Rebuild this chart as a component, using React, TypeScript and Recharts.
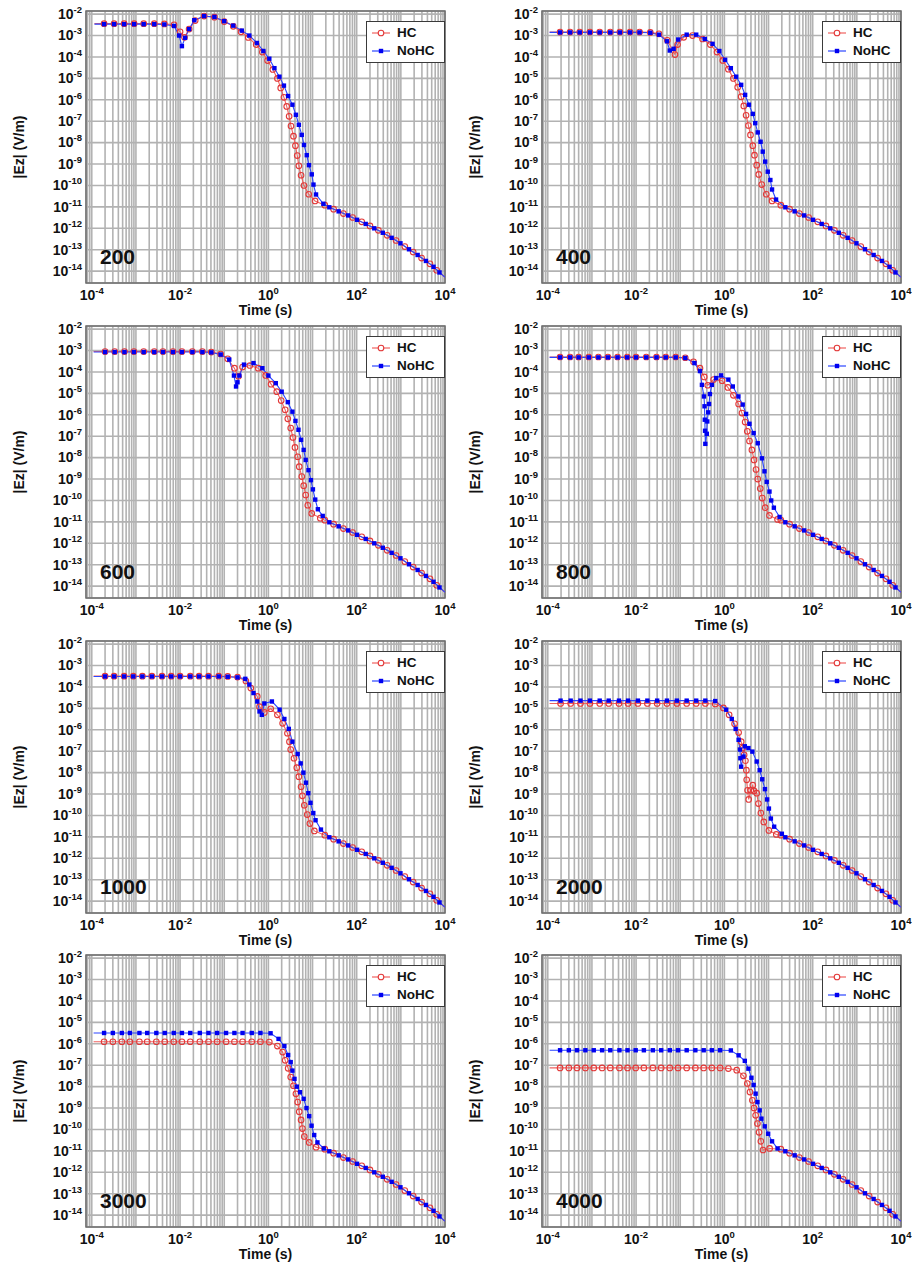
import React from 'react';
import { LineChart, Line, XAxis, YAxis, CartesianGrid, ReferenceArea, Legend } from 'recharts';

type Pair = [number, number];

// late-time tail, identical in every panel
const TAIL_HC: Pair[] = [[19, 1.2e-11], [30, 7.8e-12], [50, 4.9e-12], [81, 3.2e-12], [130, 2.0e-12], [200, 1.3e-12], [310, 8.1e-13], [490, 4.7e-13], [780, 2.7e-13], [1230, 1.4e-13], [1900, 7.8e-14], [2950, 4.1e-14], [4570, 2.2e-14], [6500, 1.1e-14], [1e4, 5.2e-15]];
const TAIL_NOHC: Pair[] = [[24, 9.6e-12], [39, 6.2e-12], [64, 4.0e-12], [102, 2.5e-12], [160, 1.6e-12], [250, 1.0e-12], [390, 6.2e-13], [620, 3.6e-13], [980, 2.0e-13], [1530, 1.05e-13], [2400, 5.7e-14], [3700, 3.0e-14], [5500, 1.6e-14], [7500, 8.7e-15], [1e4, 5.2e-15]];

const HC_200: Pair[] = [[1.15e-4, 3.6e-3], [1.9e-4, 3.6e-3], [3.2e-4, 3.6e-3], [5.4e-4, 3.6e-3], [9.1e-4, 3.6e-3], [1.5e-3, 3.6e-3], [2.6e-3, 3.6e-3], [4.4e-3, 3.5e-3], [7.3e-3, 3.2e-3], [1.0e-2, 1.5e-3], [1.26e-2, 8.3e-4], [1.6e-2, 2.0e-3], [2.2e-2, 5.0e-3], [3.5e-2, 8.1e-3], [6.0e-2, 7.2e-3], [0.1, 4.5e-3], [0.16, 2.7e-3], [0.24, 1.5e-3], [0.35, 8.1e-4], [0.53, 3.8e-4], [0.73, 1.7e-4], [0.96, 6.8e-5], [1.26, 2.6e-5], [1.6, 1.0e-5], [1.9, 3.6e-6], [2.25, 1.3e-6], [2.6, 4.9e-7], [2.95, 1.7e-7], [3.25, 6.0e-8], [3.7, 2.0e-8], [4.1, 7.2e-9], [4.5, 2.5e-9], [4.9, 8.3e-10], [5.5, 3.0e-10], [6.4, 1.0e-10], [8.2, 3.9e-11], [11.4, 1.9e-11]];
const NOHC_200: Pair[] = [[1.15e-4, 3.4e-3], [1.9e-4, 3.4e-3], [3.2e-4, 3.4e-3], [5.4e-4, 3.4e-3], [9.1e-4, 3.4e-3], [1.5e-3, 3.4e-3], [2.6e-3, 3.4e-3], [4.4e-3, 3.3e-3], [7.3e-3, 2.8e-3], [9.5e-3, 1.0e-3], [1.1e-2, 3.2e-4], [1.3e-2, 7.8e-4], [1.6e-2, 2.0e-3], [2.1e-2, 5.2e-3], [3.5e-2, 8.1e-3], [6.0e-2, 7.4e-3], [0.1, 4.7e-3], [0.16, 2.9e-3], [0.25, 1.7e-3], [0.37, 1.0e-3], [0.55, 4.5e-4], [0.77, 1.9e-4], [1.05, 8.3e-5], [1.37, 3.0e-5], [1.78, 1.2e-5], [2.25, 4.6e-6], [2.8, 1.5e-6], [3.5, 5.9e-7], [4.2, 2.0e-7], [4.9, 6.8e-8], [5.7, 2.3e-8], [6.4, 7.8e-9], [7.4, 2.6e-9], [8.3, 8.9e-10], [9.6, 3.3e-10], [10.5, 1.1e-10], [12, 3.8e-11], [17.6, 1.4e-11]];

const HC_400: Pair[] = [[1.1e-4, 1.45e-3], [1.9e-4, 1.45e-3], [3.2e-4, 1.45e-3], [5.3e-4, 1.45e-3], [9.0e-4, 1.45e-3], [1.5e-3, 1.45e-3], [2.6e-3, 1.45e-3], [4.3e-3, 1.45e-3], [7.3e-3, 1.45e-3], [1.2e-2, 1.45e-3], [2.1e-2, 1.4e-3], [3.3e-2, 1.2e-3], [5.1e-2, 6.0e-4], [7.6e-2, 1.3e-4], [8.7e-2, 3.8e-4], [0.12, 8.3e-4], [0.19, 1.0e-3], [0.32, 6.9e-4], [0.48, 3.8e-4], [0.68, 1.7e-4], [0.92, 6.9e-5], [1.23, 2.7e-5], [1.6, 1.0e-5], [2.0, 3.9e-6], [2.4, 1.4e-6], [2.75, 5.2e-7], [3.1, 1.9e-7], [3.5, 6.3e-8], [3.9, 2.3e-8], [4.4, 7.2e-9], [4.8, 2.6e-9], [5.4, 8.9e-10], [6.0, 3.3e-10], [7.0, 1.1e-10], [8.9, 3.9e-11], [12, 1.9e-11]];
const NOHC_400: Pair[] = [[1.1e-4, 1.4e-3], [1.9e-4, 1.4e-3], [3.2e-4, 1.4e-3], [5.3e-4, 1.4e-3], [9.0e-4, 1.4e-3], [1.5e-3, 1.4e-3], [2.6e-3, 1.4e-3], [4.3e-3, 1.4e-3], [7.3e-3, 1.4e-3], [1.2e-2, 1.4e-3], [2.1e-2, 1.35e-3], [3.3e-2, 1.1e-3], [5.0e-2, 5.4e-4], [5.8e-2, 2.0e-4], [7.1e-2, 2.4e-4], [9.0e-2, 6.5e-4], [0.14, 1.1e-3], [0.23, 1.1e-3], [0.36, 6.9e-4], [0.54, 4.1e-4], [0.77, 1.9e-4], [1.04, 7.4e-5], [1.4, 3.0e-5], [1.85, 1.2e-5], [2.4, 5.0e-6], [2.95, 1.7e-6], [3.6, 5.9e-7], [4.4, 2.2e-7], [5.0, 8.1e-8], [5.7, 3.0e-8], [6.6, 1.1e-8], [7.4, 3.8e-9], [8.4, 1.3e-9], [9.6, 4.4e-10], [11, 1.8e-10], [12, 6.5e-11], [14.8, 2.2e-11]];

const HC_600: Pair[] = [[1.1e-4, 9e-4], [2.0e-4, 9e-4], [3.3e-4, 9e-4], [5.5e-4, 9e-4], [9e-4, 9e-4], [1.5e-3, 9e-4], [2.6e-3, 9e-4], [4.1e-3, 9e-4], [6.9e-3, 9e-4], [1.1e-2, 9e-4], [1.9e-2, 9e-4], [3.2e-2, 9e-4], [5.1e-2, 8.5e-4], [8.3e-2, 6.9e-4], [0.12, 4.1e-4], [0.17, 1.5e-4], [0.21, 6.3e-5], [0.26, 1.7e-4], [0.38, 2.0e-4], [0.59, 1.5e-4], [0.87, 6.9e-5], [1.15, 2.7e-5], [1.55, 1.2e-5], [1.95, 4.6e-6], [2.4, 1.7e-6], [2.75, 6.5e-7], [3.2, 2.4e-7], [3.6, 8.7e-8], [4.0, 3.0e-8], [4.6, 1.1e-8], [5.0, 3.8e-9], [5.7, 1.3e-9], [6.3, 4.9e-10], [7.0, 1.8e-10], [7.8, 6.0e-11], [9.6, 2.5e-11], [15, 1.5e-11]];
const NOHC_600: Pair[] = [[1.1e-4, 8.5e-4], [2.0e-4, 8.5e-4], [3.3e-4, 8.5e-4], [5.5e-4, 8.5e-4], [9e-4, 8.5e-4], [1.5e-3, 8.5e-4], [2.6e-3, 8.5e-4], [4.1e-3, 8.5e-4], [6.9e-3, 8.5e-4], [1.1e-2, 8.5e-4], [1.9e-2, 8.5e-4], [3.2e-2, 8.5e-4], [5.1e-2, 8.2e-4], [8.3e-2, 6.5e-4], [0.13, 3.8e-4], [0.166, 6.8e-5], [0.185, 2.1e-5], [0.2, 3.3e-5], [0.22, 6.8e-5], [0.28, 2.2e-4], [0.46, 2.6e-4], [0.73, 1.5e-4], [1.0, 6.8e-5], [1.47, 3.0e-5], [2.0, 1.2e-5], [2.75, 3.9e-6], [3.5, 1.4e-6], [4.1, 5.2e-7], [4.8, 2.0e-7], [5.5, 6.8e-8], [6.3, 2.3e-8], [7.0, 7.8e-9], [8.1, 2.6e-9], [9.2, 8.9e-10], [10.2, 3.3e-10], [11.5, 1.1e-10], [13.2, 3.9e-11], [17, 1.9e-11]];

const HC_800: Pair[] = [[1.1e-4, 5e-4], [1.9e-4, 5e-4], [3.2e-4, 5e-4], [5.0e-4, 5e-4], [8.5e-4, 5e-4], [1.4e-3, 5e-4], [2.3e-3, 5e-4], [3.8e-3, 5e-4], [6.3e-3, 5e-4], [1.0e-2, 5e-4], [1.7e-2, 5e-4], [2.9e-2, 5e-4], [4.7e-2, 5e-4], [7.9e-2, 5e-4], [0.13, 4.6e-4], [0.2, 3.0e-4], [0.28, 1.5e-4], [0.35, 5.9e-5], [0.42, 2.4e-5], [0.57, 4.4e-5], [0.89, 3.9e-5], [1.2, 1.9e-5], [1.6, 8.1e-6], [2.1, 3.2e-6], [2.5, 1.2e-6], [2.95, 4.6e-7], [3.3, 1.7e-7], [3.7, 6.0e-8], [4.2, 2.3e-8], [4.7, 7.8e-9], [5.2, 2.8e-9], [5.7, 1.0e-9], [6.5, 3.6e-10], [7.2, 1.3e-10], [8.4, 4.6e-11], [10.5, 2.0e-11], [16, 1.3e-11]];
const NOHC_800: Pair[] = [[1.1e-4, 4.8e-4], [1.9e-4, 4.8e-4], [3.2e-4, 4.8e-4], [5.0e-4, 4.8e-4], [8.5e-4, 4.8e-4], [1.4e-3, 4.8e-4], [2.3e-3, 4.8e-4], [3.8e-3, 4.8e-4], [6.3e-3, 4.8e-4], [1.0e-2, 4.8e-4], [1.7e-2, 4.8e-4], [2.9e-2, 4.8e-4], [4.7e-2, 4.8e-4], [7.9e-2, 4.8e-4], [0.13, 4.5e-4], [0.21, 2.6e-4], [0.28, 1.1e-4], [0.31, 2.5e-5], [0.345, 7.2e-6], [0.355, 2.5e-6], [0.36, 5.9e-7], [0.365, 1.8e-7], [0.37, 4.4e-8], [0.4, 1.3e-7], [0.41, 4.9e-7], [0.43, 1.3e-6], [0.45, 3.2e-6], [0.47, 9.3e-6], [0.52, 2.5e-5], [0.65, 5.2e-5], [0.84, 6.9e-5], [1.23, 4.4e-5], [1.55, 2.1e-5], [2.08, 7.2e-6], [2.6, 3.0e-6], [3.1, 1.1e-6], [3.7, 3.8e-7], [4.6, 1.4e-7], [5.7, 4.7e-8], [7.1, 9.3e-9], [8.1, 2.3e-9], [9.1, 7.4e-10], [10.5, 2.6e-10], [11.5, 1.0e-10], [13.2, 4.6e-11], [17.8, 1.7e-11]];

const HC_1000: Pair[] = [[1.1e-4, 3.2e-4], [2.0e-4, 3.2e-4], [3.2e-4, 3.2e-4], [5.4e-4, 3.2e-4], [8.7e-4, 3.2e-4], [1.4e-3, 3.2e-4], [2.3e-3, 3.2e-4], [3.9e-3, 3.2e-4], [6.3e-3, 3.2e-4], [1.0e-2, 3.2e-4], [1.7e-2, 3.2e-4], [2.7e-2, 3.2e-4], [4.4e-2, 3.2e-4], [7.5e-2, 3.2e-4], [0.12, 3.1e-4], [0.2, 2.9e-4], [0.31, 1.9e-4], [0.4, 8.9e-5], [0.56, 3.6e-5], [0.63, 1.2e-5], [0.81, 6.5e-6], [1.13, 9.6e-6], [1.6, 5.0e-6], [2.1, 2.0e-6], [2.7, 6.9e-7], [3.0, 2.8e-7], [3.2, 1.2e-7], [3.8, 4.7e-8], [4.4, 1.7e-8], [4.9, 6.5e-9], [5.5, 2.2e-9], [5.9, 8.3e-10], [6.5, 3.0e-10], [7.6, 1.1e-10], [8.7, 4.2e-11], [11, 1.9e-11]];
const NOHC_1000: Pair[] = [[1.1e-4, 3.1e-4], [2.0e-4, 3.1e-4], [3.2e-4, 3.1e-4], [5.4e-4, 3.1e-4], [8.7e-4, 3.1e-4], [1.4e-3, 3.1e-4], [2.3e-3, 3.1e-4], [3.9e-3, 3.1e-4], [6.3e-3, 3.1e-4], [1.0e-2, 3.1e-4], [1.7e-2, 3.1e-4], [2.7e-2, 3.1e-4], [4.4e-2, 3.1e-4], [7.5e-2, 3.1e-4], [0.12, 3.0e-4], [0.2, 2.8e-4], [0.3, 2.4e-4], [0.37, 1.3e-4], [0.46, 5.2e-5], [0.56, 2.1e-5], [0.63, 7.2e-6], [0.71, 5.0e-6], [0.81, 1.7e-5], [1.2, 2.1e-5], [1.8, 8.7e-6], [2.3, 3.2e-6], [2.9, 1.1e-6], [3.5, 2.8e-7], [4.6, 7.4e-8], [5.4, 2.7e-8], [6.2, 1.0e-8], [7.1, 3.4e-9], [8.0, 1.1e-9], [9.0, 3.9e-10], [10.4, 1.3e-10], [11.7, 6.0e-11], [15.5, 2.2e-11]];

const HC_2000: Pair[] = [[1.1e-4, 1.7e-5], [1.95e-4, 1.7e-5], [3.3e-4, 1.7e-5], [5.5e-4, 1.7e-5], [9e-4, 1.7e-5], [1.5e-3, 1.7e-5], [2.4e-3, 1.7e-5], [4.1e-3, 1.7e-5], [6.6e-3, 1.7e-5], [1.1e-2, 1.7e-5], [1.8e-2, 1.7e-5], [3.0e-2, 1.7e-5], [5.0e-2, 1.7e-5], [8.4e-2, 1.7e-5], [0.14, 1.7e-5], [0.23, 1.7e-5], [0.37, 1.7e-5], [0.62, 1.6e-5], [0.95, 1.05e-5], [1.28, 5.0e-6], [1.7, 1.9e-6], [2.1, 7.4e-7], [2.4, 2.8e-7], [2.6, 1.4e-7], [2.8, 6.8e-8], [3.0, 3.6e-8], [3.15, 1.3e-8], [3.2, 4.6e-9], [3.35, 1.5e-9], [3.55, 5.6e-10], [3.95, 1.5e-9], [4.4, 2.6e-9], [4.7, 1.4e-9], [5.4, 1.1e-9], [5.9, 3.6e-10], [6.7, 1.3e-10], [7.8, 5.0e-11], [10.2, 2.0e-11], [15, 1.3e-11]];
const NOHC_2000: Pair[] = [[1.1e-4, 2.3e-5], [1.95e-4, 2.3e-5], [3.3e-4, 2.3e-5], [5.5e-4, 2.3e-5], [9e-4, 2.3e-5], [1.5e-3, 2.3e-5], [2.4e-3, 2.3e-5], [4.1e-3, 2.3e-5], [6.6e-3, 2.3e-5], [1.1e-2, 2.3e-5], [1.8e-2, 2.3e-5], [3.0e-2, 2.3e-5], [5.0e-2, 2.3e-5], [8.4e-2, 2.3e-5], [0.14, 2.3e-5], [0.23, 2.3e-5], [0.37, 2.3e-5], [0.62, 2.2e-5], [1.1, 8.7e-6], [1.47, 3.2e-6], [1.8, 1.1e-6], [2.1, 3.4e-7], [2.25, 1.2e-7], [2.3, 4.7e-8], [2.4, 1.9e-8], [2.7, 5.6e-8], [2.9, 1.7e-7], [3.5, 1.4e-7], [4.3, 9.6e-8], [5.4, 3.3e-8], [6.3, 1.3e-8], [7.2, 4.9e-9], [8.3, 1.7e-9], [9.3, 5.6e-10], [10.2, 2.1e-10], [11.3, 7.2e-11], [13.4, 3.0e-11], [20, 1.4e-11]];

const HC_3000: Pair[] = [[1.1e-4, 1.25e-6], [1.9e-4, 1.25e-6], [3.0e-4, 1.25e-6], [4.8e-4, 1.25e-6], [7.3e-4, 1.25e-6], [1.2e-3, 1.25e-6], [1.8e-3, 1.25e-6], [2.9e-3, 1.25e-6], [4.5e-3, 1.25e-6], [7.2e-3, 1.25e-6], [1.1e-2, 1.25e-6], [1.7e-2, 1.25e-6], [2.8e-2, 1.25e-6], [4.4e-2, 1.25e-6], [6.9e-2, 1.25e-6], [0.11, 1.25e-6], [0.17, 1.25e-6], [0.26, 1.25e-6], [0.42, 1.25e-6], [0.66, 1.25e-6], [1.05, 1.2e-6], [1.6, 7.8e-7], [2.1, 4.1e-7], [2.4, 1.7e-7], [2.8, 7.2e-8], [3.2, 2.8e-8], [3.7, 1.1e-8], [4.2, 4.6e-9], [4.6, 1.9e-9], [5.0, 6.8e-10], [5.5, 2.8e-10], [5.9, 1.1e-10], [6.5, 4.7e-11], [8.4, 2.5e-11], [12, 1.5e-11]];
const NOHC_3000: Pair[] = [[1.1e-4, 3.2e-6], [1.9e-4, 3.2e-6], [3.0e-4, 3.2e-6], [4.8e-4, 3.2e-6], [7.3e-4, 3.2e-6], [1.2e-3, 3.2e-6], [1.8e-3, 3.2e-6], [2.9e-3, 3.2e-6], [4.5e-3, 3.2e-6], [7.2e-3, 3.2e-6], [1.1e-2, 3.2e-6], [1.7e-2, 3.2e-6], [2.8e-2, 3.2e-6], [4.4e-2, 3.2e-6], [6.9e-2, 3.2e-6], [0.11, 3.2e-6], [0.17, 3.2e-6], [0.26, 3.2e-6], [0.42, 3.2e-6], [0.66, 3.2e-6], [1.12, 3.1e-6], [1.7, 1.7e-6], [2.3, 7.8e-7], [2.8, 3.0e-7], [3.2, 1.4e-7], [3.5, 5.6e-8], [3.9, 2.3e-8], [4.4, 1.0e-8], [5.2, 5.5e-9], [6.3, 2.7e-9], [7.3, 1.0e-9], [8.4, 4.2e-10], [9.5, 1.5e-10], [10.9, 5.5e-11], [12.9, 2.5e-11], [18, 1.3e-11]];

const HC_4000: Pair[] = [[1.1e-4, 7.5e-8], [1.9e-4, 7.5e-8], [3.0e-4, 7.5e-8], [4.6e-4, 7.5e-8], [7.1e-4, 7.5e-8], [1.1e-3, 7.5e-8], [1.7e-3, 7.5e-8], [2.6e-3, 7.5e-8], [4.2e-3, 7.5e-8], [6.4e-3, 7.5e-8], [9.8e-3, 7.5e-8], [1.5e-2, 7.5e-8], [2.4e-2, 7.5e-8], [3.7e-2, 7.5e-8], [5.8e-2, 7.5e-8], [8.9e-2, 7.5e-8], [0.14, 7.5e-8], [0.22, 7.5e-8], [0.34, 7.5e-8], [0.52, 7.5e-8], [0.8, 7.5e-8], [1.23, 7.0e-8], [1.9, 5.9e-8], [2.7, 3.2e-8], [3.3, 1.4e-8], [3.8, 5.6e-9], [4.3, 2.3e-9], [4.7, 1.0e-9], [5.1, 4.6e-10], [5.6, 1.9e-10], [6.1, 7.4e-11], [6.7, 2.8e-11], [7.5, 1.1e-11], [10.6, 1.3e-11]];
const NOHC_4000: Pair[] = [[1.1e-4, 5.0e-7], [1.9e-4, 5.0e-7], [3.0e-4, 5.0e-7], [4.6e-4, 5.0e-7], [7.1e-4, 5.0e-7], [1.1e-3, 5.0e-7], [1.7e-3, 5.0e-7], [2.6e-3, 5.0e-7], [4.2e-3, 5.0e-7], [6.4e-3, 5.0e-7], [9.8e-3, 5.0e-7], [1.5e-2, 5.0e-7], [2.4e-2, 5.0e-7], [3.7e-2, 5.0e-7], [5.8e-2, 5.0e-7], [8.9e-2, 5.0e-7], [0.14, 5.0e-7], [0.22, 5.0e-7], [0.34, 5.0e-7], [0.52, 5.0e-7], [0.8, 5.0e-7], [1.4, 4.9e-7], [2.1, 2.9e-7], [2.9, 1.6e-7], [3.5, 6.9e-8], [4.1, 2.6e-8], [4.6, 1.2e-8], [5.1, 4.7e-9], [5.6, 1.9e-9], [6.3, 7.8e-10], [6.9, 3.2e-10], [8.2, 1.4e-10], [9.8, 6.3e-11], [12, 2.8e-11], [16, 1.3e-11]];

const PANEL_LABELS = ['200', '400', '600', '800', '1000', '2000', '3000', '4000'];
const HC_SERIES = [HC_200, HC_400, HC_600, HC_800, HC_1000, HC_2000, HC_3000, HC_4000];
const NOHC_SERIES = [NOHC_200, NOHC_400, NOHC_600, NOHC_800, NOHC_1000, NOHC_2000, NOHC_3000, NOHC_4000];

const X_DOMAIN: [number, number] = [7.4e-5, 1e4];
const Y_DOMAIN: [number, number] = [2.8e-15, 1.4e-2];
const X_DECADES = [-5, -4, -3, -2, -1, 0, 1, 2, 3];
const X_LABELLED = [-4, -2, 0, 2, 4];
const Y_EXPONENTS = [-14, -13, -12, -11, -10, -9, -8, -7, -6, -5, -4, -3, -2];

const xTicks: number[] = [];
X_DECADES.forEach((d) => {
  for (let m = 1; m <= 9; m++) {
    const v = Number(`${m}e${d}`);
    if (v >= X_DOMAIN[0] && v <= X_DOMAIN[1]) xTicks.push(v);
  }
});
xTicks.push(1e4);
const yTicks = Y_EXPONENTS.map((p) => Number(`1e${p}`));

const FONT = '"Liberation Sans", Arial, Helvetica, sans-serif';
const HC_LINE = '#f0625f';
const HC_MARK = '#e23838';
const NOHC_LINE = '#2a45ff';
const NOHC_MARK = '#0000f0';
const GRID = '#b2b2b2';

const W = 456;
const H = 322;
const COL_LEFT = [0, 456];
const ROW_TOP = [0, 315, 630, 944];

const rows = (pairs: Pair[]) => pairs.map(([t, e]) => ({ t, e }));

function decadeExp(v: number): number | null {
  const p = Math.round(Math.log10(v));
  return Math.abs(v / Number(`1e${p}`) - 1) < 1e-6 ? p : null;
}

function XTick(props: any) {
  const { x, y, payload } = props;
  const p = decadeExp(payload.value);
  if (p === null || !X_LABELLED.includes(p)) return <g />;
  return (
    <text x={x} y={y} textAnchor="middle" fontFamily={FONT} fontWeight="bold" fill="#111">
      <tspan dy={13} fontSize={14}>10</tspan>
      <tspan dy={-6} fontSize={9.5}>{p}</tspan>
    </text>
  );
}

function YTick(props: any) {
  const { x, y, payload } = props;
  const p = decadeExp(payload.value);
  if (p === null) return <g />;
  return (
    <text x={x} y={y} textAnchor="end" fontFamily={FONT} fontWeight="bold" fill="#111">
      <tspan dy={4.8} fontSize={14}>10</tspan>
      <tspan dy={-6} fontSize={9.5}>{p}</tspan>
    </text>
  );
}

const circleDot = (n: number) => (props: any) => {
  const { cx, cy, index } = props;
  if (index === 0 || index === n - 1 || cx == null || cy == null) return <g key={`c${index}`} />;
  return <circle key={`c${index}`} cx={cx} cy={cy} r={2.8} fill="none" stroke={HC_MARK} strokeWidth={1.1} />;
};

const squareDot = (n: number) => (props: any) => {
  const { cx, cy, index } = props;
  if (index === 0 || index === n - 1 || cx == null || cy == null) return <g key={`s${index}`} />;
  return <rect key={`s${index}`} x={cx - 2.2} y={cy - 2.2} width={4.4} height={4.4} fill={NOHC_MARK} />;
};

function LegendBox() {
  const row = (kind: 'hc' | 'nohc', text: string) => (
    <div style={{ display: 'flex', alignItems: 'center', height: 18 }}>
      <svg width={25} height={10} style={{ marginLeft: 5 }}>
        {kind === 'hc' ? (
          <>
            <line x1={0} y1={5} x2={18} y2={5} stroke={HC_LINE} strokeWidth={1.2} />
            <circle cx={9} cy={5} r={2.8} fill="#fff" stroke={HC_MARK} strokeWidth={1.1} />
          </>
        ) : (
          <>
            <line x1={0} y1={5} x2={18} y2={5} stroke={NOHC_LINE} strokeWidth={1.2} />
            <rect x={6.8} y={2.8} width={4.4} height={4.4} fill={NOHC_MARK} />
          </>
        )}
      </svg>
      <span style={{ fontFamily: FONT, fontWeight: 'bold', fontSize: 13.5, color: '#111', lineHeight: '18px' }}>{text}</span>
    </div>
  );
  return (
    <div style={{ width: 79, height: 42, boxSizing: 'border-box', border: '1.5px solid #3a3a3a', background: '#fff', paddingTop: 2 }}>
      {row('hc', 'HC')}
      {row('nohc', 'NoHC')}
    </div>
  );
}

function Panel({ idx }: { idx: number }) {
  const hc = rows([...HC_SERIES[idx], ...TAIL_HC]);
  const nohc = rows([...NOHC_SERIES[idx], ...TAIL_NOHC]);
  const left = COL_LEFT[idx % 2];
  const top = ROW_TOP[Math.floor(idx / 2)];
  const edgeAxis = {
    type: 'number' as const,
    scale: 'log' as const,
    domain: X_DOMAIN,
    allowDataOverflow: true,
    ticks: xTicks,
    interval: 0 as const,
    mirror: true,
    tick: false,
    axisLine: false,
    tickSize: 4,
    tickLine: { stroke: '#555', strokeWidth: 1 },
  };
  return (
    <div style={{ position: 'absolute', left, top, width: W, height: H }}>
      <LineChart width={W} height={H} margin={{ top: 11, right: 11, bottom: 0, left: 26 }}>
        <CartesianGrid stroke={GRID} strokeWidth={1.6} />
        <XAxis
          type="number"
          dataKey="t"
          scale="log"
          domain={X_DOMAIN}
          allowDataOverflow
          ticks={xTicks}
          interval={0}
          height={39}
          tickLine={false}
          axisLine={false}
          tickSize={4}
          tickMargin={0}
          tick={<XTick />}
          label={{
            content: (p: any) => {
              const vb = p.viewBox;
              return (
                <text x={vb.x + vb.width / 2} y={vb.y + 32} textAnchor="middle" fontFamily={FONT} fontWeight="bold" fontSize={14} fill="#111">
                  Time (s)
                </text>
              );
            },
          }}
        />
        <XAxis xAxisId="topEdge" orientation="top" {...edgeAxis} />
        <XAxis xAxisId="bottomEdge" orientation="bottom" {...edgeAxis} />
        <YAxis
          type="number"
          dataKey="e"
          scale="log"
          domain={Y_DOMAIN}
          allowDataOverflow
          ticks={yTicks}
          interval={0}
          width={60}
          tickLine={false}
          axisLine={false}
          tickSize={4}
          tickMargin={0}
          tick={<YTick />}
          label={{
            content: (p: any) => {
              const vb = p.viewBox;
              const cy = vb.y + vb.height / 2;
              return (
                <text x={19} y={cy} transform={`rotate(-90 19 ${cy})`} textAnchor="middle" dominantBaseline="central" fontFamily={FONT} fontWeight="bold" fontSize={14} fill="#111">
                  |Ez| (V/m)
                </text>
              );
            },
          }}
        />
        <ReferenceArea x1={X_DOMAIN[0]} x2={X_DOMAIN[1]} y1={Y_DOMAIN[0]} y2={Y_DOMAIN[1]} fill="none" stroke="#6e6e6e" strokeWidth={1.5} ifOverflow="visible" />
        <Line data={hc} dataKey="e" name="HC" type="linear" stroke={HC_LINE} strokeWidth={1.1} dot={circleDot(hc.length)} activeDot={false} isAnimationActive={false} />
        <Line data={nohc} dataKey="e" name="NoHC" type="linear" stroke={NOHC_LINE} strokeWidth={1.1} dot={squareDot(nohc.length)} activeDot={false} isAnimationActive={false} />
        <Legend
          layout="vertical"
          align="center"
          verticalAlign="middle"
          wrapperStyle={{ left: 366, top: 21, width: 79, height: 42 }}
          content={() => <LegendBox />}
        />
      </LineChart>
      <div style={{ position: 'absolute', left: 100, top: 246, fontFamily: FONT, fontWeight: 'bold', fontSize: 21, lineHeight: '21px', color: '#111' }}>
        {PANEL_LABELS[idx]}
      </div>
    </div>
  );
}

export default function App() {
  return (
    <div style={{ position: 'absolute', left: 0, top: 0, width: 912, height: 1263, background: '#fff', overflow: 'hidden' }}>
      {PANEL_LABELS.map((_, i) => (
        <Panel key={i} idx={i} />
      ))}
    </div>
  );
}
